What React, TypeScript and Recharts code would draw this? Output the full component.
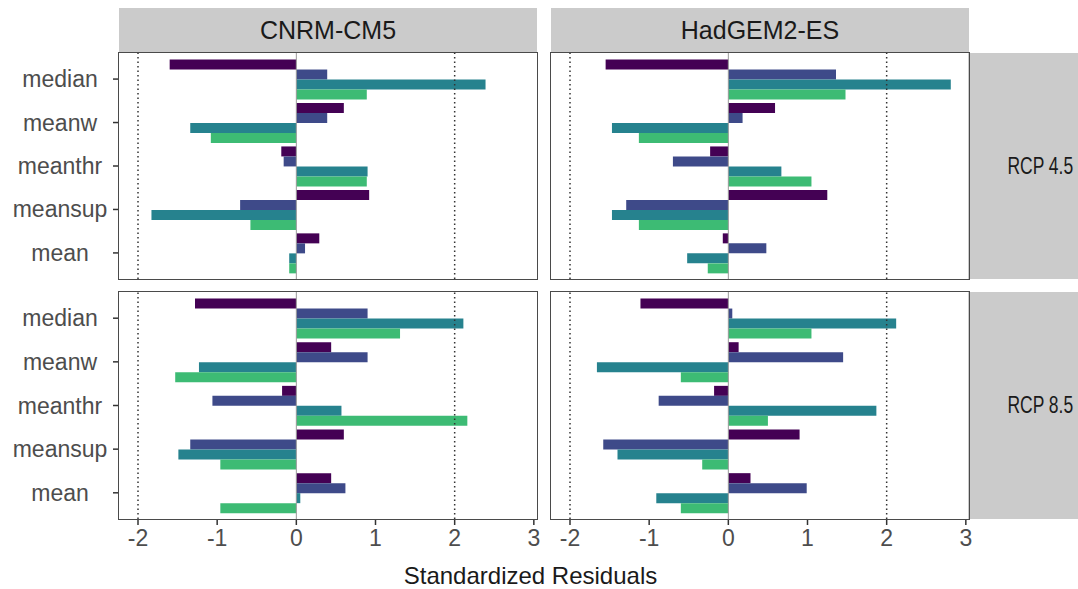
import React from 'react';
import { BarChart, Bar, XAxis, YAxis, ReferenceLine } from 'recharts';

const categories = ['median', 'meanw', 'meanthr', 'meansup', 'mean'];
const models = ['CNRM-CM5', 'HadGEM2-ES'];
const scenarios = ['RCP 4.5', 'RCP 8.5'];
const xTicks = [-2, -1, 0, 1, 2, 3];

// values per category (median, meanw, meanthr, meansup, mean), one array per bar colour
const cnrm45Purple = [-1.6, 0.6, -0.19, 0.92, 0.29];
const cnrm45Blue = [0.39, 0.39, -0.16, -0.71, 0.11];
const cnrm45Teal = [2.39, -1.34, 0.9, -1.83, -0.09];
const cnrm45Green = [0.89, -1.08, 0.89, -0.58, -0.09];

const had45Purple = [-1.55, 0.59, -0.23, 1.25, -0.07];
const had45Blue = [1.36, 0.18, -0.7, -1.29, 0.48];
const had45Teal = [2.81, -1.47, 0.67, -1.47, -0.52];
const had45Green = [1.48, -1.13, 1.05, -1.13, -0.26];

const cnrm85Purple = [-1.28, 0.44, -0.18, 0.6, 0.44];
const cnrm85Blue = [0.9, 0.9, -1.06, -1.34, 0.62];
const cnrm85Teal = [2.11, -1.23, 0.57, -1.49, 0.05];
const cnrm85Green = [1.31, -1.53, 2.16, -0.96, -0.96];

const had85Purple = [-1.11, 0.13, -0.18, 0.9, 0.28];
const had85Blue = [0.05, 1.45, -0.88, -1.58, 0.99];
const had85Teal = [2.12, -1.66, 1.87, -1.4, -0.91];
const had85Green = [1.05, -0.6, 0.5, -0.33, -0.6];

const colors = ['#440154', '#3e4a89', '#26828e', '#3dbb74'];
const keys = ['s1', 's2', 's3', 's4'];

const buildData = (series: number[][]) =>
  categories.map((name, i) => ({
    name,
    s1: series[0][i],
    s2: series[1][i],
    s3: series[2][i],
    s4: series[3][i],
  }));

const FONT = '"Liberation Sans", Arial, sans-serif';
const DOMAIN: [number, number] = [-2.24, 3.04];

const YTick = (props: any) => {
  const { y, payload } = props;
  return (
    <text x={60} y={y} textAnchor="middle" dominantBaseline="central" fontSize={23} fill="#4d4d4d" fontFamily={FONT}>
      {payload.value}
    </text>
  );
};

interface PanelProps {
  data: any[];
  left: number;
  top: number;
  plotHeight: number;
  showY: boolean;
  showX: boolean;
}

const Panel: React.FC<PanelProps> = ({ data, left, top, plotHeight, showY, showX }) => {
  const yWidth = showY ? 119 : 0;
  const width = yWidth + 418 + 8;
  const xHeight = showX ? 40 : 0;
  const pad = plotHeight / 52;
  return (
    <div style={{ position: 'absolute', left, top }}>
      <BarChart
        width={width}
        height={plotHeight + xHeight}
        data={data}
        layout="vertical"
        barCategoryGap="5%"
        barGap={0}
        margin={{ top: 0, right: 8, bottom: 0, left: 0 }}
      >
        <XAxis
          type="number"
          domain={DOMAIN}
          ticks={xTicks}
          allowDataOverflow
          hide={!showX}
          height={xHeight}
          axisLine={false}
          tickLine={{ stroke: '#333', strokeWidth: 1.5 }}
          tickSize={6}
          tickMargin={5}
          tick={{ fontSize: 23, fill: '#4d4d4d', fontFamily: FONT }}
          interval={0}
        />
        <YAxis
          type="category"
          dataKey="name"
          hide={!showY}
          width={yWidth}
          padding={{ top: pad, bottom: pad }}
          axisLine={false}
          tickLine={{ stroke: '#333', strokeWidth: 1.5 }}
          tickSize={6}
          tick={<YTick />}
          interval={0}
        />
        <ReferenceLine x={-2} stroke="#333" strokeWidth={1.5} strokeDasharray="1.5 3" />
        <ReferenceLine x={2} stroke="#333" strokeWidth={1.5} strokeDasharray="1.5 3" />
        <ReferenceLine x={0} stroke="#999" strokeWidth={1} />
        {keys.map((k, i) => (
          <Bar key={k} dataKey={k} fill={colors[i]} isAnimationActive={false} />
        ))}
      </BarChart>
    </div>
  );
};

const stripStyle: React.CSSProperties = {
  position: 'absolute',
  background: '#cbcbcb',
  display: 'flex',
  alignItems: 'center',
  justifyContent: 'center',
  fontFamily: FONT,
  color: '#1a1a1a',
};

const App: React.FC = () => {
  const cols = [119, 551];
  const rows = [53, 292];
  const heights = [226, 227];
  const panels = [
    [buildData([cnrm45Purple, cnrm45Blue, cnrm45Teal, cnrm45Green]), buildData([had45Purple, had45Blue, had45Teal, had45Green])],
    [buildData([cnrm85Purple, cnrm85Blue, cnrm85Teal, cnrm85Green]), buildData([had85Purple, had85Blue, had85Teal, had85Green])],
  ];
  return (
    <div style={{ position: 'absolute', left: 0, top: 0, width: 1078, height: 589, background: '#fff', overflow: 'hidden' }}>
      {models.map((m, c) => (
        <div key={m} style={{ ...stripStyle, left: cols[c], top: 8, width: 418, height: 44, fontSize: 25 }}>
          {m}
        </div>
      ))}
      {scenarios.map((s, r) => (
        <div key={s} style={{ ...stripStyle, left: 968, top: rows[r], width: 144, height: heights[r], fontSize: 23 }}>
          <span style={{ display: 'inline-block', transform: 'scaleX(0.76)' }}>{s}</span>
        </div>
      ))}
      {rows.map((top, r) =>
        cols.map((left, c) => (
          <Panel
            key={`${r}-${c}`}
            data={panels[r][c]}
            left={c === 0 ? 0 : left}
            top={top}
            plotHeight={heights[r]}
            showY={c === 0}
            showX={r === 1}
          />
        ))
      )}
      {rows.map((top, r) =>
        cols.map((left, c) => (
          <div
            key={`b${r}-${c}`}
            style={{
              position: 'absolute',
              left: left - 1,
              top: top - 1,
              width: 420,
              height: heights[r] + 2,
              border: '1.5px solid #4a4a4a',
              boxSizing: 'border-box',
              pointerEvents: 'none',
            }}
          />
        ))
      )}
      <div
        style={{
          position: 'absolute',
          left: 106,
          width: 849,
          top: 562,
          textAlign: 'center',
          fontFamily: FONT,
          fontSize: 24,
          color: '#1a1a1a',
        }}
      >
        Standardized Residuals
      </div>
    </div>
  );
};

export default App;
